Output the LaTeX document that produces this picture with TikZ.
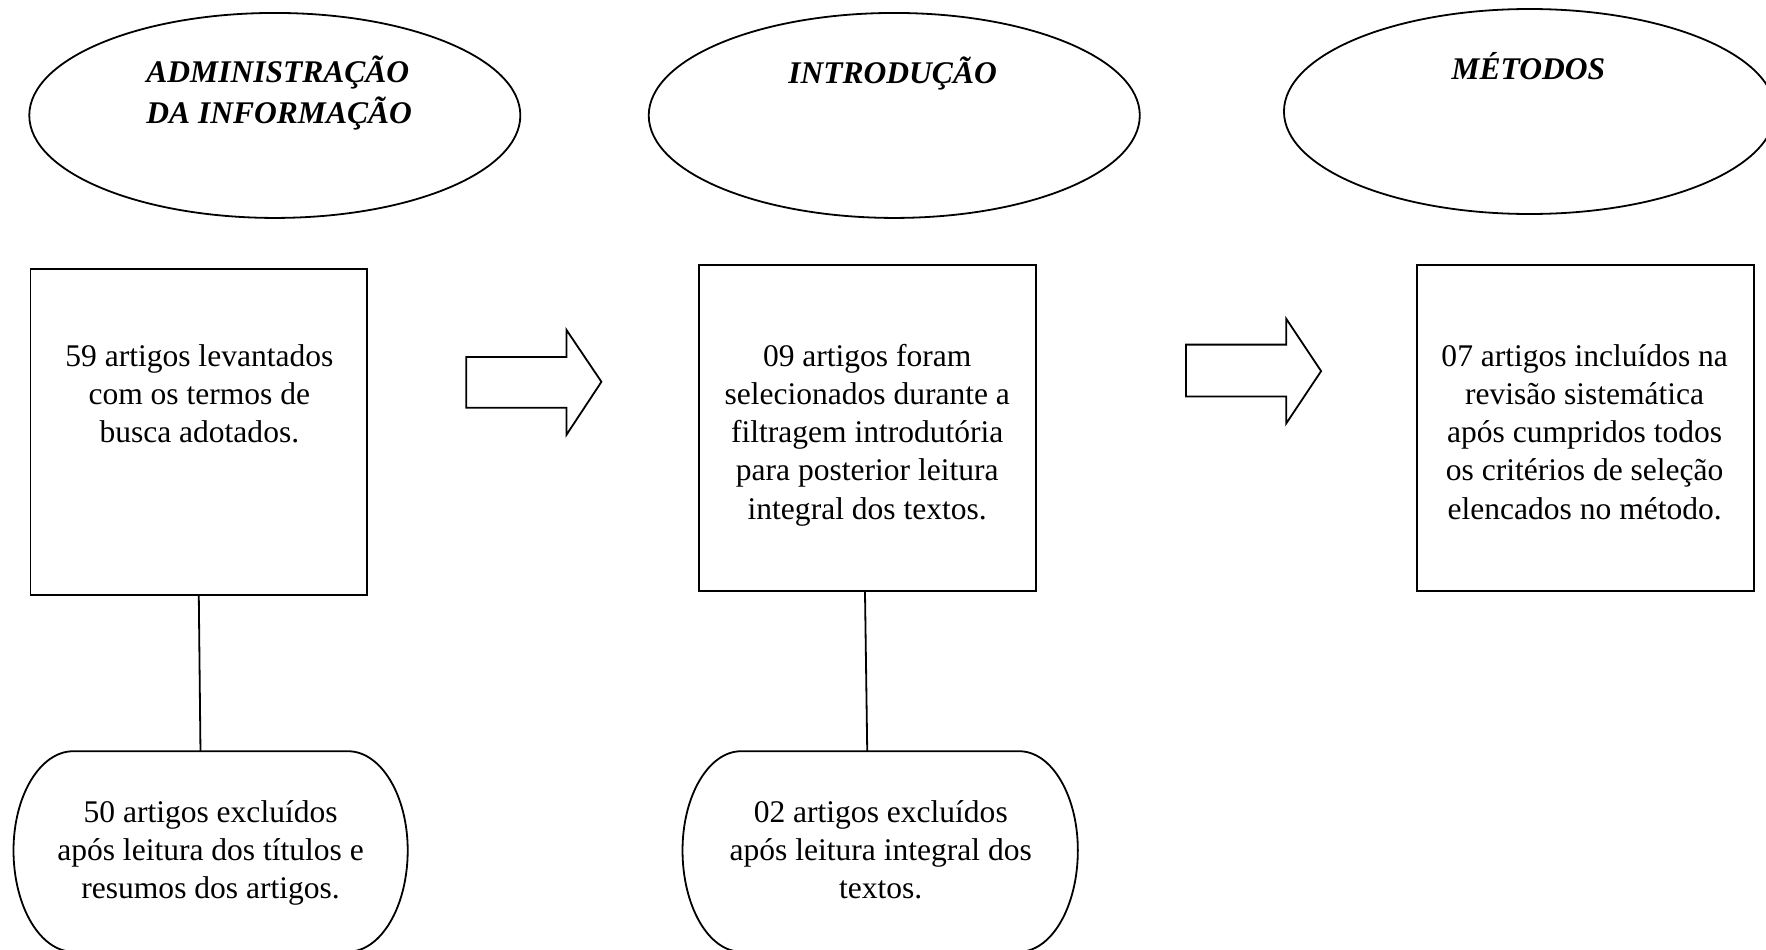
\documentclass[tikz,border=0pt]{standalone}
\usepackage{fontspec}
\setmainfont{Liberation Serif}
\usetikzlibrary{shapes.geometric}
\begin{document}
\begin{tikzpicture}[x=1pt,y=-1pt,
  every node/.style={inner sep=0pt, outer sep=0pt},
  oval/.style={draw, line width=1.6pt, ellipse, minimum width=436pt, minimum height=182pt},
  stagebox/.style={draw, line width=1.6pt, rectangle, minimum width=299pt, minimum height=290pt},
  body/.style={font=\fontsize{28}{34}\selectfont, align=center, anchor=base},
  head/.style={font=\fontsize{28}{36}\selectfont\bfseries\itshape, anchor=base},
  ln/.style={line width=1.6pt},
  bigarrow/.style={draw, line width=1.6pt, line join=miter},
  roundend/.style={draw, line width=1.6pt}
]
\useasboundingbox (0,0) rectangle (1568,843);
\clip (0,0) rectangle (1568,843);

% ovals
\node[oval] (e1) at (244,102.5) {};
\node[oval] (e2) at (794,102.5) {};
\node[oval] (e3) at (1358,99) {};
\node[head, align=left, anchor=base west] (h1) at (130,109.5) {ADMINISTRAÇÃO\\DA INFORMAÇÃO};
\node[head] (h2) at (792.5,74) {INTRODUÇÃO};
\node[head] (h3) at (1357,70.5) {MÉTODOS};

% boxes
\node[stagebox] (b1) at (176.5,383.5) {};
\node[stagebox] (b2) at (770,380) {};
\node[stagebox] (b3) at (1407.5,380) {};
\node[body] (t1) at (177,393) {59 artigos levantados\\com os termos de\\busca adotados.};
\node[body] (t2) at (770,461) {09 artigos foram\\selecionados durante a\\filtragem introdutória\\para posterior leitura\\integral dos textos.};
\node[body] (t3) at (1407,461) {07 artigos incluídos na\\revisão sistemática\\após cumpridos todos\\os critérios de seleção\\elencados no método.};

% arrows
\draw[bigarrow] (414,317) -- (503,317) -- (503,293) -- (534,339) -- (503,386) -- (503,362) -- (414,362) -- cycle;
\draw[bigarrow] (1053,306) -- (1142,306) -- (1142,283) -- (1173,329.5) -- (1142,376) -- (1142,352) -- (1053,352) -- cycle;

% excluded shapes
\draw[roundend] (65,667) -- (309,667) .. controls (338.3,667) and (362,706.4) .. (362,755)
  .. controls (362,804.7) and (338.3,845) .. (309,845) -- (65,845)
  .. controls (35.7,845) and (12,804.7) .. (12,755)
  .. controls (12,706.4) and (35.7,667) .. (65,667) -- cycle;
\draw[roundend] (658,667) -- (905,667) .. controls (933.7,667) and (957,706.4) .. (957,755)
  .. controls (957,804.7) and (933.7,845) .. (905,845) -- (658,845)
  .. controls (629.3,845) and (606,804.7) .. (606,755)
  .. controls (606,706.4) and (629.3,667) .. (658,667) -- cycle;
\coordinate (x1top) at (178,667);
\coordinate (x2top) at (770,667);
\node[body] (x1) at (187,798) {50 artigos excluídos\\após leitura dos títulos e\\resumos dos artigos.};
\node[body] (x2) at (782,798) {02 artigos excluídos\\após leitura integral dos\\textos.};

% connectors
\draw[ln] (b1.south) -- (x1top);
\draw[ln] ([xshift=-2pt]b2.south) -- (x2top);
\end{tikzpicture}
\end{document}
